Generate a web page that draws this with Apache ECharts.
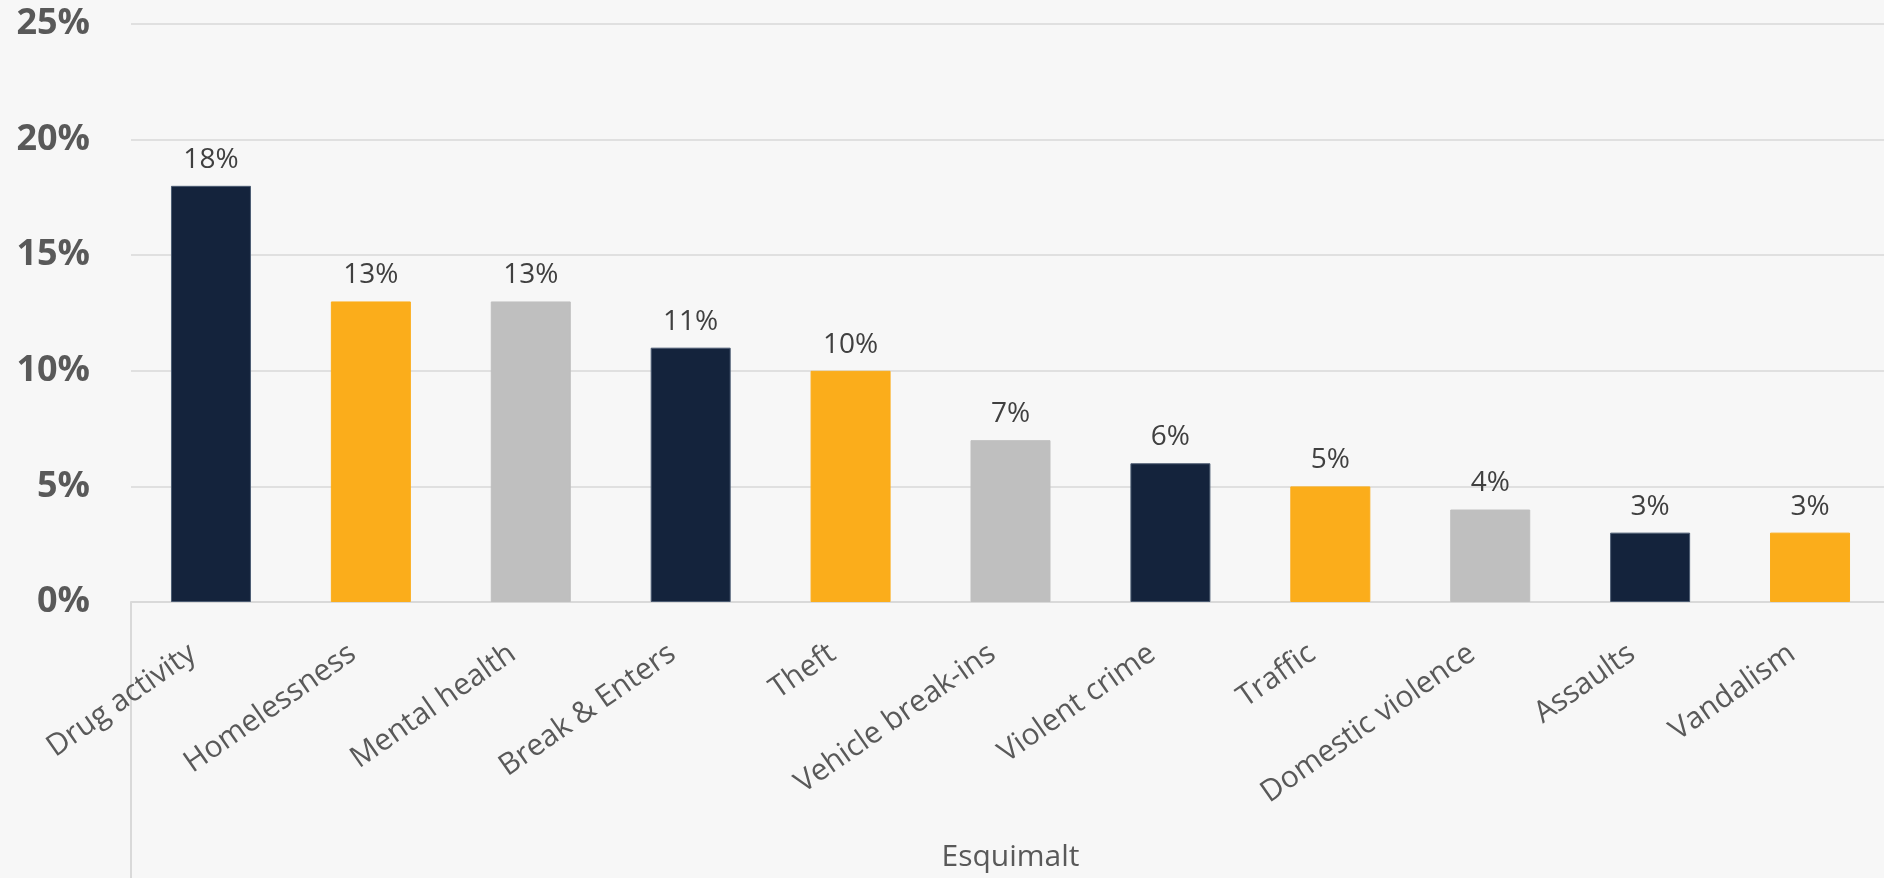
<!DOCTYPE html>
<html>
<head>
<meta charset="utf-8">
<script src="https://cdn.jsdelivr.net/npm/echarts@6/dist/echarts.min.js"></script>
<style>
html,body{margin:0;padding:0;background:#f7f7f7;}
#chart{width:1884px;height:878px;}
</style>
</head>
<body>
<div id="chart"></div>
<script>
const categories = ['Drug activity','Homelessness','Mental health','Break & Enters','Theft','Vehicle break-ins','Violent crime','Traffic','Domestic violence','Assaults','Vandalism'];
const values = [18,13,13,11,10,7,6,5,4,3,3];
const groupName = ['Esquimalt'];
const yTicks = {min:0, max:25, interval:5};
const palette = ['#14233c','#fbad1b','#bfbfbf'];
const borders = ['#4b5b72','#fbad1b','#bfbfbf'];

const chart = echarts.init(document.getElementById('chart'));
const font = '"Open Sans", "Noto Sans", sans-serif';
chart.setOption({
  backgroundColor:'#f7f7f7',
  animation:false,
  grid:{left:131, width:1759, top:24, bottom:276, containLabel:false, outerBoundsMode:'none'},
  xAxis:[{
    type:'category',
    data:categories,
    axisLine:{show:true, lineStyle:{color:'#d9d9d9', width:2}},
    axisTick:{show:false},
    axisLabel:{rotate:35, margin:36, padding:[0,22,0,0], fontSize:30, color:'#595959', fontFamily:font, interval:0}
  },{
    type:'category',
    position:'bottom',
    data:groupName,
    axisLine:{show:false},
    axisTick:{show:true, length:290, alignWithLabel:false, lineStyle:{color:'#d9d9d9', width:2}},
    axisLabel:{margin:240, fontSize:30, color:'#595959', fontFamily:font}
  }],
  yAxis:{
    type:'value',
    min:yTicks.min, max:yTicks.max, interval:yTicks.interval,
    axisLine:{show:false}, axisTick:{show:false},
    axisLabel:{formatter:'{value}%', fontSize:36, fontWeight:'bold', color:'#595959', fontFamily:font, margin:41},
    splitLine:{lineStyle:{color:'#d9d9d9', width:1.5}}
  },
  series:[{
    type:'bar',
    xAxisIndex:0,
    barWidth:80,
    data:values.map((v,i)=>({value:v, itemStyle:{color:palette[i%3], borderColor:borders[i%3], borderWidth:1}})),
    label:{show:true, position:'top', distance:12, formatter:'{c}%', fontSize:28, color:'#404040', fontFamily:font}
  }]
});
</script>
</body>
</html>
